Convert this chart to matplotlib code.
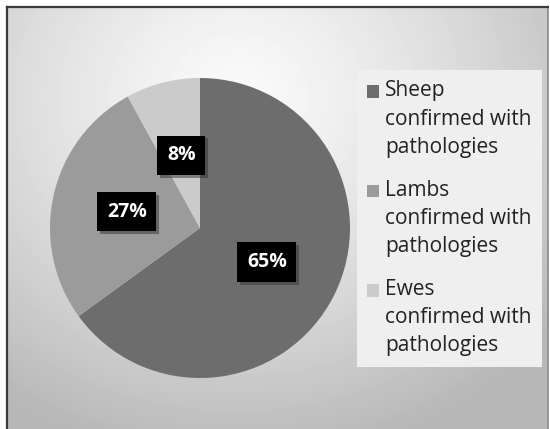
import numpy as np
import matplotlib.pyplot as plt
from matplotlib.patches import Rectangle
from matplotlib.legend_handler import HandlerPatch
import matplotlib.patheffects as pe

labels = ["Sheep\nconfirmed with\npathologies",
          "Lambs\nconfirmed with\npathologies",
          "Ewes\nconfirmed with\npathologies"]
shares = [65, 27, 8]
colors = ["#6d6d6d", "#9b9b9b", "#cbcbcb"]

W, H = 550, 429
fig = plt.figure(figsize=(W / 100, H / 100), dpi=100)
fig.patch.set_facecolor("white")

# grey radial backdrop inside the frame
bg = fig.add_axes([7 / W, 0, 541 / W, 422 / H])
yy, xx = np.mgrid[0:422, 0:541]
d = np.hypot((xx - 230) / 1.0, (yy - 90) / 0.9)
shade = np.clip(0.98 - 0.24 * (d / 380) ** 1.3, 0.72, 1.0)
bg.imshow(shade, cmap="gray", vmin=0, vmax=1, aspect="auto", interpolation="bilinear")
bg.set_xticks([])
bg.set_yticks([])
bg.spines["bottom"].set_visible(False)
for side in ["left", "top"]:
    bg.spines[side].set_color("#3a3a3a")
    bg.spines[side].set_linewidth(1.6)
bg.spines["right"].set_color("#8a8a8a")
bg.spines["right"].set_linewidth(1.2)

# pie
cx, cy, r = 200, 228, 150
ax = fig.add_axes([(cx - r) / W, (H - cy - r) / H, 2 * r / W, 2 * r / H])
wedges, texts, autotexts = ax.pie(
    shares, colors=colors, startangle=90, counterclock=False,
    autopct="%d%%", pctdistance=0.5, radius=1,
    textprops=dict(color="white", fontsize=14, fontweight="bold", family="Open Sans"),
    wedgeprops=dict(linewidth=0))
ax.set_xlim(-1, 1)
ax.set_ylim(-1, 1)
for t in autotexts:
    t.set_bbox(dict(boxstyle="square,pad=0.5", facecolor="black", edgecolor="none"))
    t.get_bbox_patch().set_path_effects(
        [pe.SimplePatchShadow(offset=(2, -2), shadow_rgbFace="#333333", alpha=0.5), pe.Normal()])

FS = 15
LS = 1.45


# legend squares sit beside the first line of each label
def top_square(legend, orig_handle, xdescent, ydescent, width, height, fontsize):
    return Rectangle((-xdescent, -ydescent + 28 * 0.72), width, height)


leg = fig.legend(wedges, labels, loc="upper left",
                 bbox_to_anchor=(357 / W, 1 - 70 / H), borderaxespad=0,
                 frameon=True, fancybox=False, framealpha=1,
                 prop=dict(family="Open Sans", size=FS),
                 handlelength=0.55, handleheight=0.55, handletextpad=0.3,
                 labelspacing=1.05, borderpad=0.5,
                 handler_map={w: HandlerPatch(patch_func=top_square) for w in wedges})
leg.get_frame().set_facecolor("#efefef")
leg.get_frame().set_edgecolor("none")
for t in leg.get_texts():
    t.set_color("#222222")
    t.set_linespacing(LS)

fig.savefig("out.png", dpi=100)
